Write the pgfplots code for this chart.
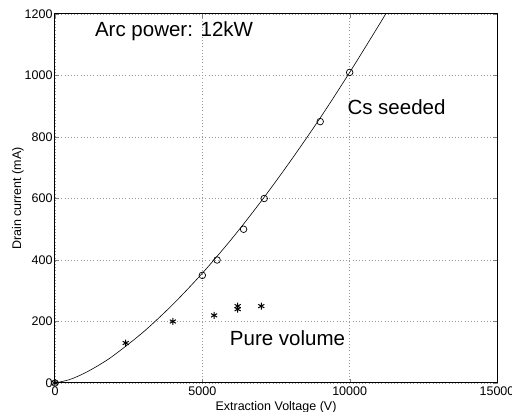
\documentclass[border=0pt]{standalone}
\usepackage{pgfplots}
\pgfplotsset{compat=1.18}
\usepackage{fontspec}
\setmainfont{Liberation Sans}
\begin{document}
\begin{tikzpicture}
\begin{axis}[
    scale only axis,
    width=442pt, height=369pt,
    xmin=0, xmax=15000, ymin=0, ymax=1200,
    xtick={0,5000,10000,15000},
    ytick={0,200,400,600,800,1000,1200},
    scaled x ticks=false,
    /pgf/number format/1000 sep={},
    /pgf/number format/assume math mode=true,
    tick label style={font=\fontsize{12.5}{13}\selectfont},
    yticklabel style={xshift=1pt},
    tick align=inside,
    major tick length=4pt,
    grid=major,
    major grid style={gray!80, line width=0.6pt, dash pattern=on 0.6pt off 2.6pt},
    axis line style={line width=1pt},
    xlabel={Extraction Voltage (V)},
    ylabel={Drain current (mA)},
    label style={font=\fontsize{12.5}{13}\selectfont},
    xlabel style={at={(axis description cs:0.5,-0.065)}, anchor=center},
    ylabel style={at={(axis description cs:-0.084,0.5)}, anchor=center},
    clip=true,
]
% fitted curve
\addplot[black, line width=0.6pt, smooth] coordinates {
    (0,0) (500,11.3) (1000,31.9) (1500,58.7) (2000,90.3) (3000,166)
    (4000,255.5) (5000,357) (6000,469) (7000,591.5) (8000,723)
    (9000,862) (10000,1010) (11000,1165) (11250,1205)
};
% Cs seeded
\addplot[only marks, mark=o, mark size=3.3pt, black, mark options={line width=0.7pt}] coordinates {
    (0,0) (5000,350) (5500,400) (6400,500) (7100,600) (9000,850) (10000,1010)
};
% pure volume
\addplot[only marks, mark=asterisk, mark size=3.5pt, black, mark options={line width=1pt}] coordinates {
    (0,0) (2400,130) (4000,200) (5400,220) (6200,240) (6200,250) (7000,250)
};
\node[font=\fontsize{20.5}{22}\selectfont] at (axis cs:4040,1145) {Arc power: 12kW};
\node[font=\fontsize{20.5}{22}\selectfont] at (axis cs:11590,898) {Cs seeded};
\node[font=\fontsize{20.5}{22}\selectfont] at (axis cs:7890,146) {Pure volume};
\end{axis}
\pgfresetboundingbox
\path (-55pt,-29pt) rectangle (457pt,383pt);
\end{tikzpicture}
\end{document}
